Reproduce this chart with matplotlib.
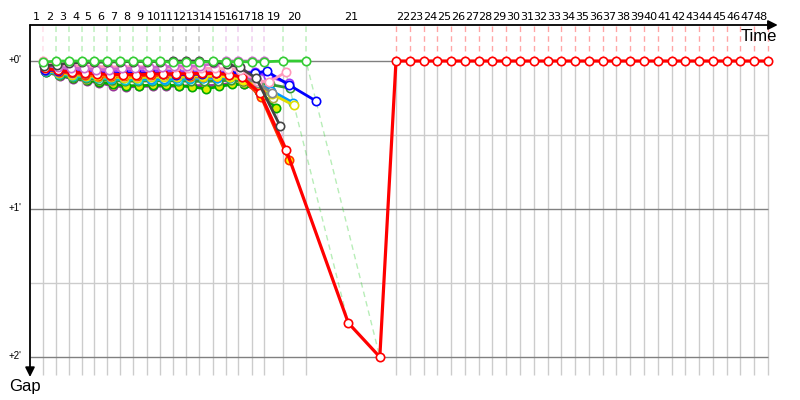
import matplotlib.pyplot as plt

FONT = ['Liberation Sans', 'DejaVu Sans']
LAPFONT = ['DejaVu Sans']

# leader's elapsed time (s) at the end of each lap
lead_time = [21.1, 42.3, 63.4, 84.6, 104.1, 125.2, 146.3, 167.5, 190.2, 211.4,
             232.5, 253.7, 274.8, 297.6, 318.7, 338.2, 361.0, 380.5, 411.4, 448.8,
             595.1, 617.5, 639.9, 662.3, 684.7, 707.1, 729.5, 751.9, 774.3, 796.7,
             819.1, 841.5, 863.9, 886.3, 908.7, 931.1, 953.5, 975.9, 998.3, 1020.7,
             1043.1, 1065.5, 1087.9, 1110.3, 1132.7, 1155.1, 1177.5, 1199.9]
lap_labels = [str(i) for i in range(1, 49)]

# gap to the leader (s) for every lap each car completed
gap_green = [0.5, 0, 0, 0, 0, 0, 0, 0, 0, 0, 0.6, 0.6, 0.6, 0, 0.3, 0.3, 0.3, 0.3, 0, 0]
gap_pink = [0, 1.2, 1.8, 2.0, 2.2, 2.4, 2.4, 2.2, 2.4, 2.6, 2.6, 2.8, 2.8, 3.0, 3.2, 3.5, 8.0, 8.5, 4.5]
gap_darkgray = [2.0, 1.5, 0.8, 0.6, 0.5, 0.4, 0.3, 0.2, 0.2, 0.2, 0, 0, 0, 0.3, 1.3, 2.5, 7.0, 26.4]
gap_violet = [1.5, 2.5, 3.0, 3.0, 3.5, 3.5, 3.0, 3.0, 2.5, 2.5, 2.0, 2.0, 2.0, 1.0, 0, 0, 0, 0]
gap_lightgray = [1.0, 2.0, 2.5, 3.0, 3.2, 3.5, 3.5, 3.2, 3.0, 3.2, 3.5, 3.5, 3.8, 4.0, 4.5, 5.0, 5.5, 6.0]
gap_gray = [1.5, 2.5, 3.0, 3.5, 4.0, 4.0, 4.0, 4.0, 4.0, 4.5, 4.5, 4.8, 5.0, 5.0, 5.5, 6.5, 9.0, 13.0]
gap_blue = [3.5, 4.0, 4.5, 4.8, 5.0, 5.2, 5.0, 5.0, 5.0, 5.2, 5.5, 5.5, 5.3, 5.0, 5.0, 4.8, 4.9, 4.1, 9.7, 16.2]
gap_purple = [2.5, 3.0, 3.5, 4.0, 4.0, 4.2, 4.2, 4.0, 4.0, 4.0, 4.2, 4.5, 4.5, 4.6, 4.5, 4.5, 4.5, 6.0, 9.0]
gap_red = [3.0, 3.8, 4.5, 5.0, 5.2, 5.5, 5.5, 5.5, 5.3, 5.3, 5.2, 5.2, 5.0, 5.0, 5.5, 6.5, 13.0, 36.0, 106.2, 120.0,
           0, 0, 0, 0, 0, 0, 0, 0, 0, 0, 0, 0, 0, 0, 0, 0, 0, 0, 0, 0, 0, 0, 0, 0, 0, 0, 0, 0]
gap_orangered = [3.5, 4.5, 5.0, 5.5, 6.0, 6.2, 6.0, 6.0, 5.8, 5.8, 5.8, 6.0, 6.2, 6.2, 6.5, 7.5, 14.5, 40.0]
gap_magenta = [2.8, 3.5, 4.2, 4.5, 4.8, 5.0, 5.0, 5.0, 5.2, 5.2, 5.0, 5.0, 5.2, 5.5, 6.0, 6.5, 8.0]
gap_skyblue = [4.0, 5.0, 5.5, 6.0, 6.5, 6.8, 7.0, 7.0, 7.2, 7.2, 7.0, 7.0, 7.0, 6.8, 6.5, 7.0, 9.0, 12.0, 17.0]
gap_cyan = [4.2, 5.2, 6.0, 6.5, 7.0, 7.3, 7.5, 7.5, 7.5, 7.5, 7.5, 7.2, 7.0, 6.8, 6.8, 7.5, 14.0]
gap_yellow = [3.8, 4.8, 5.5, 6.0, 6.5, 6.5, 6.8, 6.8, 6.5, 6.5, 6.5, 6.5, 6.5, 6.2, 6.0, 6.5, 9.5, 13.5, 18.0]
gap_yellow2 = [3.2, 4.0, 4.5, 5.0, 5.5, 5.8, 5.8, 5.5, 5.2, 5.5, 5.8, 5.8, 6.0, 6.0, 6.5, 7.5, 11.0]
gap_darkgreen = [4.0, 5.5, 6.5, 7.0, 7.5, 7.8, 8.0, 8.0, 8.0, 8.0, 8.0, 8.2, 8.2, 8.0, 7.8, 8.0, 9.0, 9.5, 11.0]
gap_olive = [4.2, 5.5, 6.5, 7.2, 7.8, 8.0, 8.2, 8.2, 8.0, 8.0, 8.0, 8.0, 8.2, 8.0, 7.8, 8.5, 11.0, 15.0]
gap_green2 = [4.3, 5.8, 7.0, 7.8, 8.5, 9.5, 10.0, 10.0, 9.8, 9.8, 10.0, 10.5, 11.3, 10.3, 9.5, 9.5, 12.0, 19.0]
gap_purple_y = [4.5, 6.0, 7.3, 8.1, 8.9, 10.1, 10.5, 10.3, 10.2, 10.2, 10.2, 10.0, 10.0, 9.8, 9.0, 9.5, 12.0]

# (gaps, line colour, marker face) - drawing order, back to front
series = [
    (gap_purple_y, '#993399', '#ffff00'),
    (gap_green2, '#00aa00', '#ddee00'),
    (gap_olive, '#aaaa44', 'white'),
    (gap_darkgreen, '#339933', 'white'),
    (gap_cyan, '#00cccc', 'white'),
    (gap_skyblue, '#0099ff', 'white'),
    (gap_yellow, '#dddd00', 'white'),
    (gap_orangered, '#ff3300', '#ffff00'),
    (gap_magenta, '#ff00ff', 'white'),
    (gap_yellow2, '#eeee00', '#ffff00'),
    (gap_gray, '#888888', 'white'),
    (gap_lightgray, '#cccccc', 'white'),
    (gap_purple, '#9933ff', 'white'),
    (gap_blue, '#0000ff', 'white'),
    (gap_red, '#ff0000', 'white'),
    (gap_pink, '#ff99bb', 'white'),
    (gap_violet, '#cc66cc', 'white'),
    (gap_darkgray, '#444444', 'white'),
    (gap_green, '#33cc33', 'white'),
]
# who leads on ties
priority = [gap_green, gap_red, gap_violet, gap_darkgray, gap_pink]
colour_of = {id(g): c for g, c, f in series}

fig = plt.figure(figsize=(8, 4), dpi=100)
ax = fig.add_axes([30 / 800, 23 / 400, 750 / 800, 352 / 400])
ax.set_xlim(0, 1219.5)
ax.set_ylim(128.1, -14.6)
ax.axis('off')

# grid
ax.hlines([30, 90], 0, lead_time[-1], color='#cccccc', lw=1, zorder=1)
ax.hlines([0, 60, 120], 0, lead_time[-1], color='#808080', lw=1, zorder=1.5)
ax.vlines(lead_time, 0, 127.3, color='#cccccc', lw=1, zorder=1)

# lap lines in the colour of the lap leader
for i, t in enumerate(lead_time):
    done = [g for g, c, f in series if len(g) > i]
    best = min(g[i] for g in done)
    leader = next(g for g in priority + done if len(g) > i and g[i] == best)
    worst = max(g[i] for g in done)
    ax.plot([t, t, t + worst], [-14.0, 0, worst], ls=(0, (4, 3)), lw=1,
            color=colour_of[id(leader)], alpha=0.35, zorder=2)

for g, c, face in series:
    x = [lead_time[i] + g[i] for i in range(len(g))]
    lw = 2.3 if c == '#ff0000' else 2.0
    ax.plot(x, g, '-o', color=c, lw=lw, ms=6, mfc=face, mec=c, mew=1.2, zorder=3)

# axes with arrows
ax.annotate('', xy=(0.997, 1), xytext=(0, 1), xycoords='axes fraction',
            arrowprops=dict(arrowstyle='-|>', color='black', lw=1.3, mutation_scale=14,
                            shrinkA=0, shrinkB=0))
ax.annotate('', xy=(0, 0), xytext=(0, 1), xycoords='axes fraction',
            arrowprops=dict(arrowstyle='-|>', color='black', lw=1.3, mutation_scale=14,
                            shrinkA=0, shrinkB=0))

prev = 0
for t, lab in zip(lead_time, lap_labels):
    ax.annotate(lab, xy=((prev + t) / 2, 1), xycoords=('data', 'axes fraction'),
                xytext=(0, 2), textcoords='offset points', ha='center', va='bottom',
                fontsize=8, family=LAPFONT)
    prev = t

for v, lab in [(0, "+0'"), (60, "+1'"), (120, "+2'")]:
    ax.annotate(lab, xy=(0, v), xycoords=('axes fraction', 'data'), xytext=(-6, 1),
                textcoords='offset points', ha='right', va='center', fontsize=7, family=FONT)

ax.annotate('Time', xy=(0.996, 1), xycoords='axes fraction', xytext=(0, -3),
            textcoords='offset points', ha='right', va='top', fontsize=12, family=FONT)
fig.text(25 / 800, 1 - 386 / 400, 'Gap', ha='center', va='center', fontsize=12, family=FONT)

fig.savefig('out.png', dpi=100)
